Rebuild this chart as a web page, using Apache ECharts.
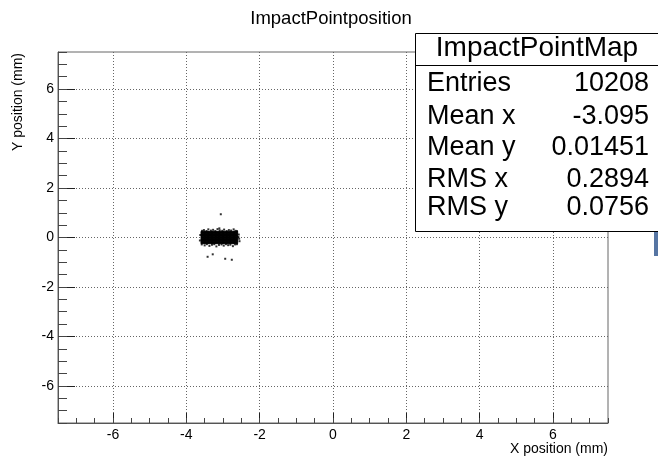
<!DOCTYPE html>
<html>
<head>
<meta charset="utf-8">
<script src="https://cdn.jsdelivr.net/npm/echarts@6/dist/echarts.min.js"></script>
<style>
  html, body { margin: 0; padding: 0; background: #ffffff; }
  #chart { width: 658px; height: 457px; }
</style>
</head>
<body>
<div id="chart"></div>
<script>
// ---- labels ----
const chartTitle = 'ImpactPointposition';
const xTitle = 'X position (mm)';
const yTitle = 'Y position (mm)';

// ---- axes ----
const axisMin = -7.5;
const axisMax = 7.5;
const majorTicks = [-6, -4, -2, 0, 2, 4, 6];
const minorStep = 0.5;

// ---- dense core of the 2D histogram (mm) ----
const xBinEdges = [-3.6, -3.5, -3.4, -3.3, -3.2, -3.1, -3.0, -2.9, -2.8, -2.7, -2.6];
const yBinEdges = [-0.25, -0.15, -0.05, 0.05, 0.15, 0.25];
// rows follow yBinEdges (bottom to top), columns follow xBinEdges
const binCounts = [
  [148, 152, 155, 150, 149, 153, 151, 147, 150, 146],
  [228, 233, 230, 236, 231, 229, 234, 232, 227, 230],
  [258, 262, 265, 260, 263, 259, 261, 264, 257, 260],
  [229, 231, 235, 233, 228, 232, 230, 236, 229, 231],
  [150, 147, 153, 149, 152, 148, 151, 150, 146, 149]
];

// ---- sparse entries around the core (mm) ----
const sparsePoints = [
  [-3.57, 0.27], [-3.52, 0.30], [-3.45, 0.26], [-3.40, 0.33], [-3.33, 0.28], [-3.27, 0.31],
  [-3.21, 0.26], [-3.15, 0.34], [-3.09, 0.29], [-3.02, 0.27], [-2.97, 0.32], [-2.90, 0.26],
  [-2.84, 0.30], [-2.78, 0.28], [-2.71, 0.33], [-2.66, 0.27], [-2.62, 0.26],
  [-3.58, -0.28], [-3.50, -0.32], [-3.44, -0.27], [-3.37, -0.34], [-3.30, -0.29], [-3.24, -0.27],
  [-3.18, -0.36], [-3.11, -0.30], [-3.04, -0.28], [-2.98, -0.33], [-2.92, -0.27], [-2.86, -0.31],
  [-2.80, -0.29], [-2.73, -0.35], [-2.67, -0.28], [-2.62, -0.27],
  [-2.57, 0.12], [-2.56, -0.05], [-2.58, 0.02], [-2.55, -0.15], [-3.62, 0.10], [-3.63, -0.12],
  [-3.06, 0.94], [-3.10, 0.37], [-3.42, -0.78], [-3.28, -0.68], [-2.94, -0.86], [-2.76, -0.90]
];

// ---- statistics box ----
const statName = 'ImpactPointMap';
const statLabels = ['Entries', 'Mean x', 'Mean y', 'RMS x', 'RMS y'];
const statValues = ['10208', '-3.095', '0.01451', '0.2894', '0.0756'];

// build bin rectangles: [x0, x1, y0, y1, count]
const binData = [];
binCounts.forEach(function (row, j) {
  row.forEach(function (c, i) {
    if (c > 0) binData.push([xBinEdges[i], xBinEdges[i + 1], yBinEdges[j], yBinEdges[j + 1], c]);
  });
});

const font = '"Liberation Sans", Arial, Helvetica, sans-serif';
const chart = echarts.init(document.getElementById('chart'), null, { renderer: 'canvas' });

function majorAxis(isX) {
  return {
    type: 'value',
    min: axisMin,
    max: axisMax,
    position: isX ? 'bottom' : 'left',
    axisLine: { show: true, onZero: false, lineStyle: { color: '#555', width: 1 } },
    axisTick: { show: true, inside: true, customValues: majorTicks, length: isX ? 10 : 17,
                lineStyle: { color: '#222', width: 1 } },
    axisLabel: { show: true, customValues: majorTicks, fontFamily: font, fontSize: 14,
                 color: '#000', margin: isX ? 5 : 4 },
    splitLine: { show: true, lineStyle: { type: [1, 2], color: '#666', width: 1 } },
    minorTick: { show: false }
  };
}
function minorAxis(isX) {
  return {
    type: 'value',
    min: axisMin,
    max: axisMax,
    interval: minorStep,
    position: isX ? 'bottom' : 'left',
    axisLine: { show: false, onZero: false },
    axisTick: { show: true, inside: true, length: isX ? 5 : 9, lineStyle: { color: '#444', width: 1 } },
    axisLabel: { show: false },
    splitLine: { show: false }
  };
}

const boxX = 415.5, boxY = 33.5, boxW = 260, boxH = 198;
const rowY = [84, 116.5, 147.5, 180, 207.5];
const statGraphics = [
  { type: 'rect', z: 100, shape: { x: boxX, y: boxY, width: boxW, height: boxH },
    style: { fill: '#fff', stroke: '#000', lineWidth: 1 } },
  { type: 'line', z: 101, shape: { x1: boxX, y1: 65.5, x2: boxX + boxW, y2: 65.5 },
    style: { stroke: '#000', lineWidth: 1 } },
  { type: 'text', z: 101, x: 537, y: 48,
    style: { text: statName, font: '28px ' + font, fill: '#000', align: 'center', verticalAlign: 'middle' } }
];
statLabels.forEach(function (lab, k) {
  statGraphics.push({ type: 'text', z: 101, x: 427, y: rowY[k],
    style: { text: lab, font: '27px ' + font, fill: '#000', align: 'left', verticalAlign: 'middle' } });
  statGraphics.push({ type: 'text', z: 101, x: 649, y: rowY[k],
    style: { text: statValues[k], font: '27px ' + font, fill: '#000', align: 'right', verticalAlign: 'middle' } });
});

chart.setOption({
  animation: false,
  backgroundColor: '#ffffff',
  grid: { left: 58, top: 52, right: 50, bottom: 34, show: true, borderColor: '#666', borderWidth: 1,
          backgroundColor: 'transparent', containLabel: false },
  xAxis: [majorAxis(true), minorAxis(true)],
  yAxis: [majorAxis(false), minorAxis(false)],
  series: [
    {
      type: 'custom',
      name: 'core',
      coordinateSystem: 'cartesian2d',
      xAxisIndex: 0, yAxisIndex: 0,
      encode: { x: [0, 1], y: [2, 3] },
      data: binData,
      renderItem: function (params, api) {
        const p0 = api.coord([api.value(0), api.value(3)]);
        const p1 = api.coord([api.value(1), api.value(2)]);
        // a thin stroke in the fill colour closes the seams between neighbouring bins
        return { type: 'rect',
          shape: { x: p0[0], y: p0[1], width: p1[0] - p0[0], height: p1[1] - p0[1] },
          style: { fill: '#000', stroke: '#000', lineWidth: 1 } };
      },
      silent: true,
      z: 5
    },
    {
      type: 'scatter',
      name: 'sparse',
      xAxisIndex: 0, yAxisIndex: 0,
      symbol: 'rect',
      symbolSize: 2,
      itemStyle: { color: '#000' },
      data: sparsePoints,
      silent: true,
      z: 6
    }
  ],
  graphic: [
    { type: 'text', x: 331, y: 19,
      style: { text: chartTitle, font: '18.5px ' + font, fill: '#000', align: 'center', verticalAlign: 'middle' } },
    { type: 'text', x: 608, y: 449,
      style: { text: xTitle, font: '14px ' + font, fill: '#000', align: 'right', verticalAlign: 'middle' } },
    { type: 'text', x: 18, y: 53, rotation: Math.PI / 2,
      style: { text: yTitle, font: '14px ' + font, fill: '#000', align: 'right', verticalAlign: 'middle' } },
    { type: 'rect', shape: { x: 654, y: 229, width: 4, height: 27 }, style: { fill: '#5675a3' } }
  ].concat(statGraphics)
});
</script>
</body>
</html>
